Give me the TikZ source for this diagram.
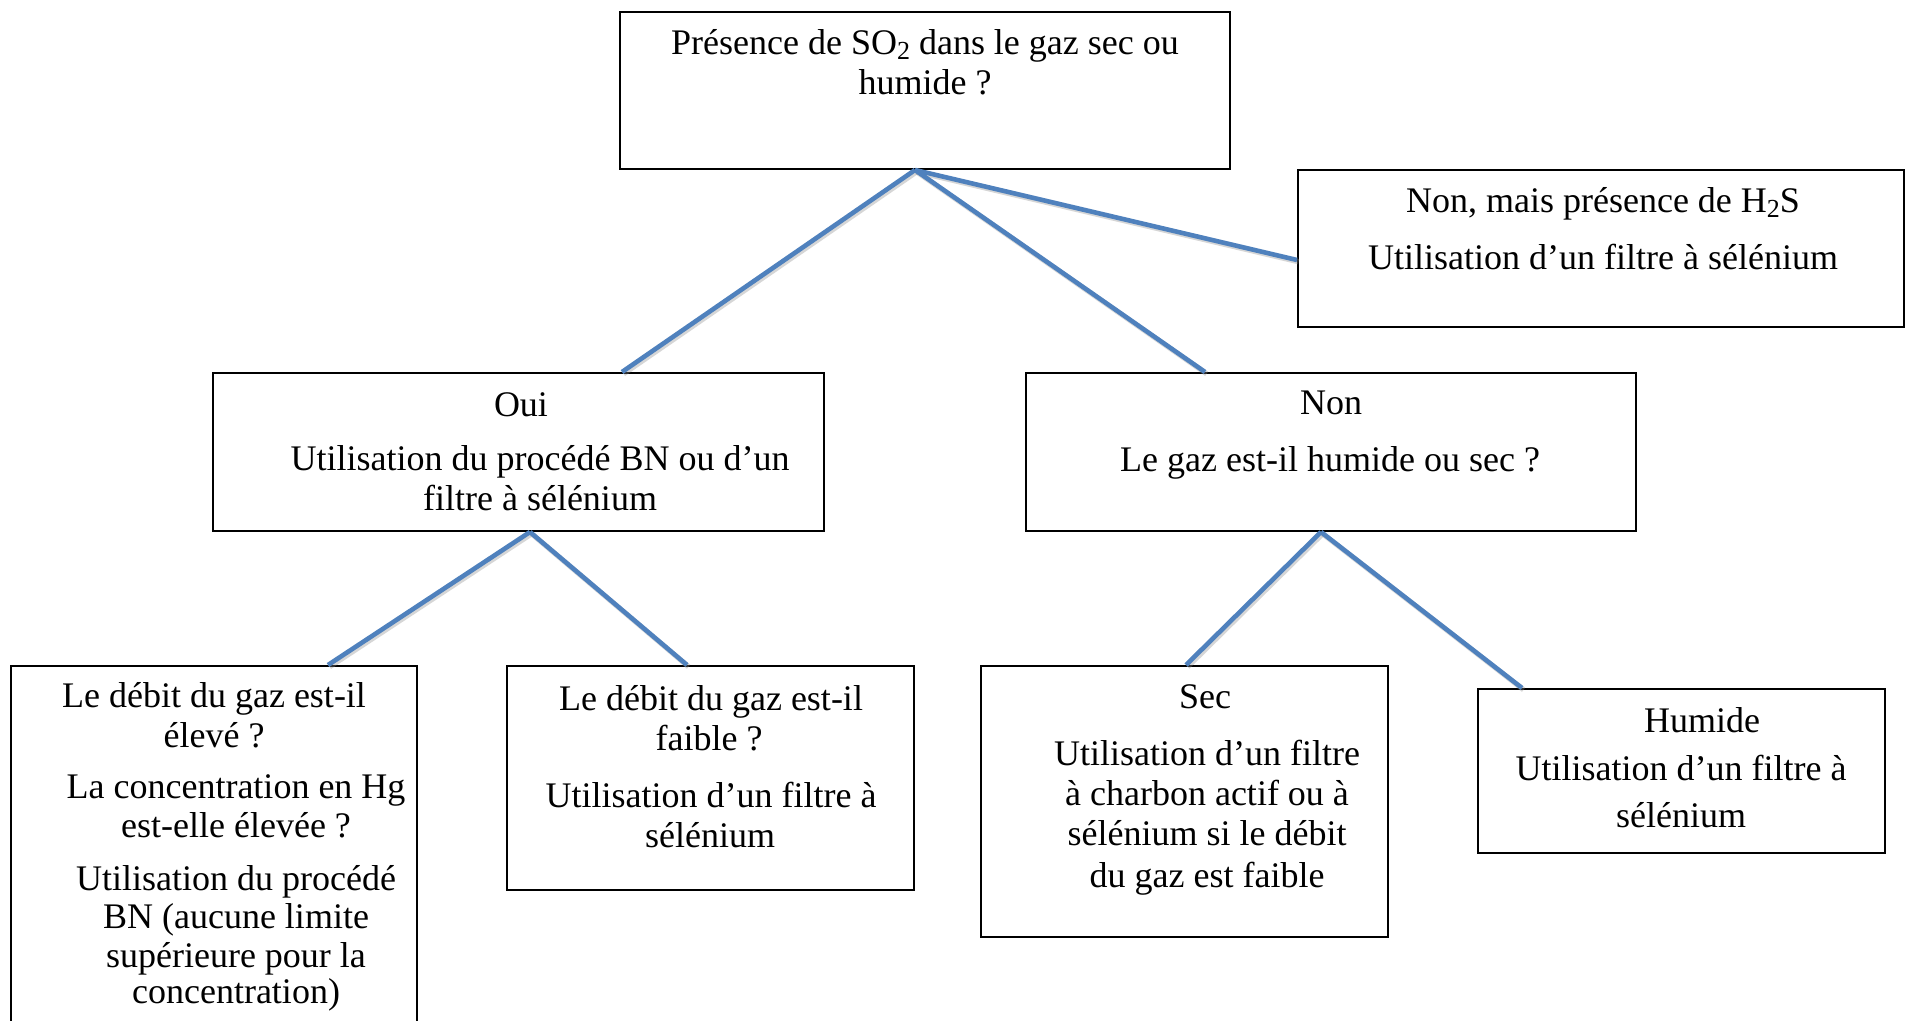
\documentclass[tikz,border=0pt]{standalone}
\usepackage{fontspec}
\setmainfont{Liberation Serif}
\usetikzlibrary{calc}
\definecolor{linkblue}{HTML}{4F81BD}
\newcommand{\lowtwo}{\raisebox{-0.3ex}{\fontsize{13}{13}\selectfont 2}}
\tikzset{
  box/.style={draw=black, line width=1pt, rectangle, inner sep=0pt},
  ln/.style={anchor=base, inner sep=0pt, font=\fontsize{18}{20}\selectfont},
  link/.style={draw=linkblue, line width=2.3pt},
  linkshade/.style={draw=black!45, line width=2.6pt, opacity=0.35,
    transform canvas={shift={(0.8pt,-0.9pt)}}},
}
\begin{document}
\begin{tikzpicture}[x=0.5pt, y=-0.5pt]
\useasboundingbox (0,0) rectangle (1906,1021);
\fill[white] (0,0) rectangle (1906,1021);

% boxes (positions in pixel units, y pointing down)
\node[box, minimum width=305pt, minimum height=78.5pt] (top)     at (925,90.5)   {};
\node[box, minimum width=303pt, minimum height=78.5pt] (nonmais) at (1601,248.5)  {};
\node[box, minimum width=305.5pt, minimum height=79pt] (oui)     at (518.5,452)  {};
\node[box, minimum width=305pt, minimum height=79pt]   (non)     at (1331,452)   {};
\node[box, minimum width=203pt, minimum height=182pt]  (eleve)   at (214,848)    {};
\node[box, minimum width=203.5pt, minimum height=112pt] (faible) at (710.5,778)  {};
\node[box, minimum width=203.5pt, minimum height=135.5pt] (sec)  at (1184.5,801.5) {};
\node[box, minimum width=203.5pt, minimum height=82pt] (humide)  at (1681.5,771) {};

% connectors
\coordinate (topfoot) at ($(top.south)+(-10,0)$);
\coordinate (ouifoot) at ($(oui.south)+(11.5,0)$);
\coordinate (nonfoot) at ($(non.south)+(-10,0)$);
\foreach \sty in {linkshade, link}{
  \draw[\sty] (topfoot) -- ($(oui.north)+(103.5,0)$);
  \draw[\sty] (topfoot) -- ($(non.north)+(-126,0)$);
  \draw[\sty] (topfoot) -- ($(nonmais.west)+(0,11.5)$);
  \draw[\sty] (ouifoot) -- ($(eleve.north)+(114,0)$);
  \draw[\sty] (ouifoot) -- ($(faible.north)+(-23.5,0)$);
  \draw[\sty] (nonfoot) -- ($(sec.north)+(1.5,0)$);
  \draw[\sty] (nonfoot) -- ($(humide.north)+(-159.5,0)$);
}

% texts of the question box
\node[ln] (q1) at (925,55) {Présence de SO\lowtwo{} dans le gaz sec ou};
\node[ln] (q2) at (925,95) {humide ?};

\node[ln] (m1) at (1603,213) {Non, mais présence de H\lowtwo{}S};
\node[ln] (m2) at (1603,270) {Utilisation d’un filtre à sélénium};

\node[ln] (o1) at (521,417) {Oui};
\node[ln] (o2) at (540,471) {Utilisation du procédé BN ou d’un};
\node[ln] (o3) at (540,510) {filtre à sélénium};

\node[ln] (n1) at (1331,415) {Non};
\node[ln] (n2) at (1330,472) {Le gaz est-il humide ou sec ?};

\node[ln] (e1) at (214,707) {Le débit du gaz est-il};
\node[ln] (e2) at (214,747) {élevé ?};
\node[ln] (e3) at (236,798) {La concentration en Hg};
\node[ln] (e4) at (236,837) {est-elle élevée ?};
\node[ln] (e5) at (236,890) {Utilisation du procédé};
\node[ln] (e6) at (236,928) {BN (aucune limite};
\node[ln] (e7) at (236,967) {supérieure pour la};
\node[ln] (e8) at (236,1003) {concentration)};

\node[ln] (f1) at (711,710) {Le débit du gaz est-il};
\node[ln] (f2) at (709,750) {faible ?};
\node[ln] (f3) at (711,807) {Utilisation d’un filtre à};
\node[ln] (f4) at (710,847) {sélénium};

\node[ln] (s1) at (1205,708) {Sec};
\node[ln] (s2) at (1207,765) {Utilisation d’un filtre};
\node[ln] (s3) at (1207,805) {à charbon actif ou à};
\node[ln] (s4) at (1207,845) {sélénium si le débit};
\node[ln] (s5) at (1207,887) {du gaz est faible};

\node[ln] (h1) at (1702,732) {Humide};
\node[ln] (h2) at (1681,780) {Utilisation d’un filtre à};
\node[ln] (h3) at (1681,827) {sélénium};
\end{tikzpicture}
\end{document}
